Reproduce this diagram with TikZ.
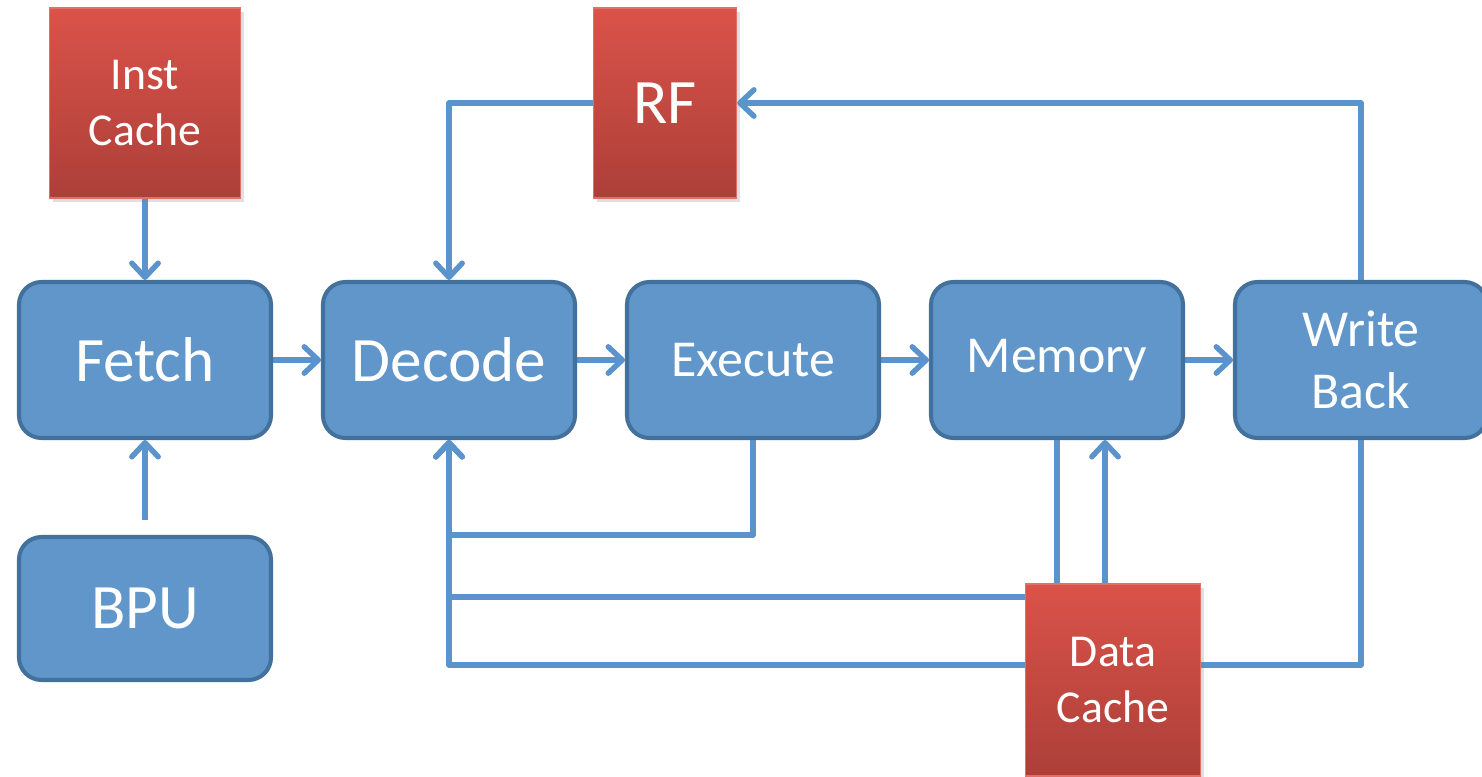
\documentclass[tikz,border=0pt]{standalone}
\usepackage{fontspec}
\setmainfont{Carlito}
\usepackage{tikz}
\usetikzlibrary{arrows.meta,positioning,shadows,backgrounds}

\definecolor{stageblue}{RGB}{96,150,201}
\definecolor{stageedge}{RGB}{66,113,158}
\definecolor{wireblue}{RGB}{91,148,204}
\definecolor{memtop}{RGB}{218,83,73}
\definecolor{membot}{RGB}{172,63,57}
\definecolor{memedge}{RGB}{224,112,104}

\newcommand{\lgfont}{\fontsize{36}{43}\selectfont}
\newcommand{\mdfont}{\fontsize{29.5}{35}\selectfont}
\newcommand{\smfont}{\fontsize{26}{32}\selectfont}

\tikzset{
	stage/.style={rectangle,rounded corners=0.45cm,draw=stageedge,line width=2.3pt,
		fill=stageblue,text=white,align=center,font=\lgfont,minimum width=5.04cm,minimum height=3.12cm},
	store/.style={rectangle,draw=memedge,line width=0.8pt,top color=memtop,bottom color=membot,
		text=white,align=center,font=\smfont,drop shadow={shadow xshift=2pt,shadow yshift=-2pt,opacity=0.25}},
	wire/.style={draw=wireblue,line width=3.1pt,line join=round},
}

\begin{document}
\begin{tikzpicture}
	\useasboundingbox (0,0) rectangle (29.64,-15.54);

	% pipeline stages
	\node[stage] (fetch) at (2.90,-7.20) {Fetch};
	\node[stage] (decode) at (8.98,-7.20) {Decode};
	\node[stage,font=\mdfont] (exe) at (15.06,-7.20) {Execute};
	\node[stage,font=\mdfont] (mem) at (21.14,-7.20) {Memory};
	\node[stage,font=\mdfont] (wb) at (27.22,-7.20) {Write\\Back};
	\node[stage,minimum height=2.86cm] (bpu) at (2.90,-12.17) {BPU};

	% caches and register file
	\node[store,minimum width=3.82cm,minimum height=3.8cm] (icache) at (2.90,-2.06) {Inst\\Cache};
	\node[store,font=\lgfont,minimum width=2.86cm,minimum height=3.8cm] (rf) at (13.30,-2.06) {RF};
	\node[store,minimum width=3.5cm,minimum height=3.84cm] (dcache) at (22.26,-13.60) {Data\\Cache};

	\coordinate (exjoin) at (8.98,-10.70);
	\coordinate (memjoin) at (8.98,-11.94);
	\coordinate (wbjoin) at (8.98,-13.30);

	\begin{scope}[on background layer,>={Straight Barb[length=8pt,width=15pt,round]}]
		\path (icache) edge[wire,->] (fetch);
		\path (bpu) edge[wire,->,shorten <=0.3cm] (fetch);
		\path (fetch) edge[wire,->] (decode);
		\path (decode) edge[wire,->] (exe);
		\path (exe) edge[wire,->] (mem);
		\path (mem) edge[wire,->] (wb);

		\draw[wire,->] (wb.north) |- (rf.east);
		\draw[wire,->] (rf.west) -| (decode.north);

		% results going back to decode
		\draw[wire,->] (exe.south) |- (exjoin) -- (decode.south);
		\draw[wire,->] (mem.south) |- (memjoin) -- (decode.south);
		\draw[wire,->] (wb.south) |- (wbjoin) -- (decode.south);

		\draw[wire,->] ([xshift=-0.16cm]dcache.north) -- ([xshift=-0.16cm]dcache.north |- mem.south);
	\end{scope}
\end{tikzpicture}
\end{document}
